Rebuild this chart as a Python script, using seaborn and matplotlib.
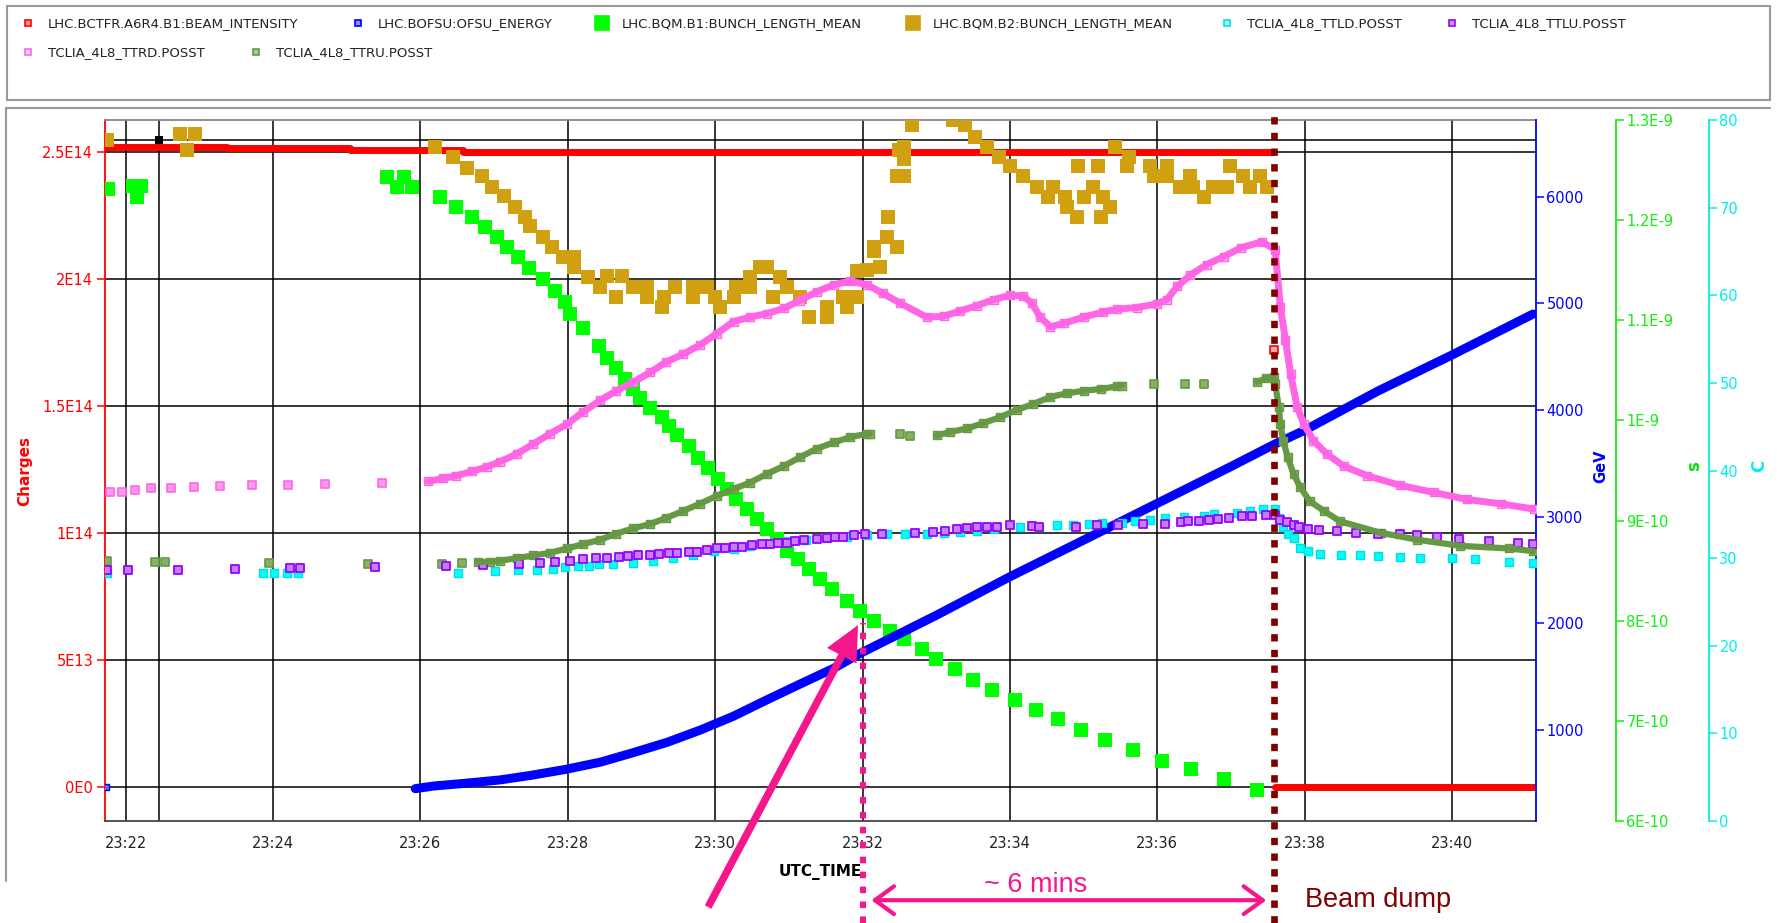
import numpy as np
import matplotlib
matplotlib.use("Agg")
import matplotlib.pyplot as plt
from matplotlib.lines import Line2D
from matplotlib.patches import Rectangle
from matplotlib import font_manager
import seaborn as sns

# all times are minutes after 23:00 UTC

# LHC.BCTFR.A6R4.B1:BEAM_INTENSITY (charges)
intensity_time = [21.72, 23.38, 25.05, 26.58, 37.57]
intensity_charges = [2.520e14, 2.513e14, 2.507e14, 2.500e14, 2.500e14]
intensity_after_time = [37.60, 41.14]
intensity_after_charges = [0.0, 0.0]
intensity_dump_time = [37.58]
intensity_dump_charges = [1.72e14]

# LHC.BOFSU:OFSU_ENERGY (GeV)
energy_start_time = [21.74]
energy_start_gev = [469]
energy_time = [25.93, 26.18, 26.60, 27.08, 27.50, 27.98, 28.45, 28.89, 29.35, 29.80, 30.25,
               30.70, 31.15, 31.61, 31.97, 33.00, 34.00, 35.00, 36.00, 37.00, 37.57, 38.00,
               39.00, 40.00, 41.10]
energy_gev = [450, 475, 500, 532, 575, 632, 700, 788, 885, 1000, 1130, 1282, 1430, 1579, 1719,
              2075, 2437, 2780, 3125, 3470, 3672, 3810, 4180, 4516, 4900]

# LHC.BQM.B1:BUNCH_LENGTH_MEAN (units of 1E-10 s)
b1_time = [21.76, 22.10, 22.15, 22.21, 25.55, 25.68, 25.78, 25.89,
           26.26, 26.49, 26.70, 26.88, 27.04, 27.17, 27.33, 27.48, 27.67, 27.83,
           27.96, 28.03, 28.21, 28.42, 28.53, 28.66, 28.78, 28.88, 28.98, 29.11, 29.28,
           29.38, 29.48, 29.64, 29.77, 29.91, 30.04, 30.16, 30.29, 30.43, 30.57, 30.70,
           30.84, 30.97, 31.13, 31.27, 31.42, 31.58, 31.79, 31.97, 32.16, 32.37, 32.56,
           32.81, 33.00, 33.26, 33.50, 33.76, 34.07, 34.36, 34.65, 34.97, 35.29, 35.67,
           36.06, 36.46, 36.90, 37.35]
b1_length = [12.31, 12.34, 12.23, 12.34, 12.43, 12.33, 12.43, 12.33,
             12.23, 12.13, 12.03, 11.93, 11.83, 11.73, 11.63, 11.52, 11.41, 11.29,
             11.18, 11.06, 10.92, 10.74, 10.62, 10.52, 10.41, 10.31, 10.22, 10.12, 10.03,
             9.94, 9.85, 9.74, 9.62, 9.52, 9.42, 9.32, 9.22, 9.12, 9.02, 8.92,
             8.82, 8.70, 8.62, 8.52, 8.42, 8.32, 8.20, 8.10, 8.00, 7.90, 7.82,
             7.72, 7.62, 7.52, 7.41, 7.31, 7.21, 7.11, 7.02, 6.91, 6.81, 6.71,
             6.60, 6.52, 6.42, 6.31]

# LHC.BQM.B2:BUNCH_LENGTH_MEAN (units of 1E-10 s)
b2_time = [21.75, 22.74, 22.83, 22.94, 26.20, 26.44, 26.63, 26.83, 26.97, 27.13, 27.28, 27.42,
           27.49, 27.67, 27.78, 27.94, 28.08, 28.08, 28.28, 28.44, 28.53, 28.66, 28.73, 28.89,
           29.07, 29.07, 29.28, 29.30, 29.46, 29.70, 29.70, 29.89, 30.00, 30.07, 30.25, 30.29,
           30.47, 30.47, 30.61, 30.70, 30.79, 30.88, 30.97, 31.15, 31.27, 31.52, 31.52, 31.74,
           31.79, 31.92, 31.92, 32.06, 32.15, 32.15, 32.24, 32.33, 32.35, 32.47, 32.47, 32.49,
           32.56, 32.56, 32.56, 32.67, 33.23, 33.39, 33.53, 33.69, 33.85, 34.00, 34.18, 34.37,
           34.52, 34.59, 34.75, 34.77, 34.91, 34.93, 35.00, 35.13, 35.20, 35.23, 35.27, 35.36,
           35.43, 35.59, 35.61, 35.90, 35.95, 36.13, 36.13, 36.31, 36.45, 36.49, 36.63, 36.76,
           36.95, 36.99, 37.17, 37.26, 37.40, 37.49]
b2_length = [12.80, 12.86, 12.70, 12.86, 12.73, 12.63, 12.52, 12.44, 12.33, 12.24, 12.13, 12.03,
             11.94, 11.83, 11.73, 11.63, 11.63, 11.53, 11.43, 11.33, 11.44, 11.23, 11.44, 11.33,
             11.33, 11.23, 11.13, 11.23, 11.33, 11.33, 11.23, 11.33, 11.23, 11.13, 11.23, 11.33,
             11.43, 11.33, 11.53, 11.53, 11.23, 11.43, 11.33, 11.23, 11.03, 11.03, 11.13, 11.23,
             11.13, 11.49, 11.23, 11.50, 11.73, 11.69, 11.53, 11.83, 12.03, 11.73, 12.44, 12.70,
             12.44, 12.61, 12.73, 12.95, 13.00, 12.95, 12.83, 12.73, 12.63, 12.54, 12.44, 12.33,
             12.23, 12.33, 12.23, 12.13, 12.03, 12.54, 12.23, 12.33, 12.54, 12.03, 12.23, 12.13,
             12.73, 12.54, 12.63, 12.54, 12.44, 12.54, 12.44, 12.33, 12.44, 12.33, 12.23, 12.33,
             12.33, 12.54, 12.44, 12.33, 12.44, 12.33]

# TCLIA_4L8_TTLD.POSST (C)
ttld_time = [21.75, 23.86, 24.02, 24.19, 24.34, 26.51, 27.01, 27.32, 27.58, 27.80,
             27.96, 28.14, 28.29, 28.42, 28.62, 28.89, 29.16, 29.43, 29.70, 29.98,
             30.25, 30.47, 30.70, 30.97, 31.24, 31.52, 31.79, 32.06, 32.33, 32.58,
             32.87, 33.10, 33.32, 33.55, 33.78, 34.14, 34.40, 34.64, 34.86, 35.07,
             35.25, 35.52, 35.70, 35.90, 36.11, 36.36, 36.63, 36.77, 37.08, 37.26,
             37.44, 37.60, 37.65, 37.71, 37.78, 37.85, 37.94, 38.05, 38.21, 38.50,
             38.75, 39.00, 39.30, 39.57, 40.00, 40.31, 40.78, 41.10]
ttld_c = [28.3, 28.3, 28.3, 28.3, 28.3, 28.3, 28.5, 28.6, 28.7, 28.75,
          29.0, 29.1, 29.1, 29.3, 29.35, 29.5, 29.7, 30.0, 30.4, 30.8,
          31.0, 31.4, 31.6, 31.9, 32.1, 32.25, 32.45, 32.6, 32.8, 32.7,
          32.7, 32.85, 33.0, 33.15, 33.3, 33.5, 33.6, 33.75, 33.75, 33.9,
          34.05, 34.05, 34.25, 34.3, 34.55, 34.7, 34.8, 35.0, 35.2, 35.4,
          35.6, 35.6, 34.6, 33.5, 32.8, 32.3, 31.2, 30.8, 30.5, 30.4,
          30.3, 30.2, 30.1, 30.0, 30.0, 29.9, 29.6, 29.4]

# TCLIA_4L8_TTLU.POSST (C)
ttlu_time = [21.75, 22.03, 22.71, 23.48, 24.23, 24.36, 25.38, 26.35, 26.85, 27.34,
             27.62, 27.83, 28.03, 28.21, 28.39, 28.53, 28.69, 28.82, 28.96, 29.12,
             29.24, 29.37, 29.48, 29.64, 29.76, 29.89, 30.02, 30.14, 30.25, 30.36,
             30.50, 30.63, 30.75, 30.86, 30.97, 31.09, 31.20, 31.38, 31.52, 31.63,
             31.74, 31.88, 32.04, 32.26, 32.71, 32.96, 33.12, 33.28, 33.42, 33.55,
             33.69, 33.82, 34.00, 34.30, 34.39, 34.90, 35.18, 35.47, 35.81, 36.11,
             36.32, 36.42, 36.56, 36.70, 36.83, 36.97, 37.15, 37.28, 37.47, 37.60,
             37.67, 37.76, 37.85, 37.92, 38.05, 38.20, 38.44, 38.70, 39.00, 39.30,
             39.53, 39.80, 40.10, 40.50, 40.90, 41.10]
ttlu_c = [28.6, 28.6, 28.7, 28.8, 28.9, 28.9, 29.0, 29.1, 29.2, 29.3,
          29.4, 29.55, 29.7, 29.85, 30.0, 30.05, 30.1, 30.2, 30.35, 30.35,
          30.5, 30.6, 30.6, 30.7, 30.7, 30.9, 31.1, 31.1, 31.3, 31.3,
          31.45, 31.6, 31.65, 31.75, 31.75, 31.95, 32.1, 32.2, 32.3, 32.4,
          32.4, 32.65, 32.7, 32.8, 32.9, 33.0, 33.1, 33.3, 33.4, 33.5,
          33.5, 33.6, 33.75, 33.7, 33.6, 33.6, 33.75, 33.8, 33.9, 33.95,
          34.1, 34.25, 34.25, 34.4, 34.5, 34.6, 34.8, 34.8, 34.9, 34.9,
          34.4, 34.1, 33.8, 33.5, 33.3, 33.2, 33.1, 32.9, 32.8, 32.7,
          32.6, 32.4, 32.2, 32.0, 31.7, 31.6]

# TCLIA_4L8_TTRD.POSST (C)
ttrd_sparse_time = [21.79, 21.95, 22.13, 22.34, 22.61, 22.93, 23.28, 23.71, 24.20, 24.71, 25.48]
ttrd_sparse_c = [37.6, 37.6, 37.8, 38.0, 38.0, 38.1, 38.2, 38.4, 38.4, 38.5, 38.6]
ttrd_time = [26.11, 26.31, 26.49, 26.70, 26.90, 27.08, 27.31, 27.53, 27.76, 27.99,
             28.21, 28.44, 28.66, 28.89, 29.12, 29.34, 29.57, 29.79, 30.02, 30.25,
             30.47, 30.70, 30.93, 31.15, 31.38, 31.61, 31.83, 32.06, 32.28, 32.51,
             32.87, 33.10, 33.32, 33.55, 33.78, 34.00, 34.18, 34.30, 34.41, 34.55,
             34.73, 35.00, 35.27, 35.45, 35.72, 35.99, 36.13, 36.27, 36.45, 36.67,
             36.90, 37.13, 37.42, 37.60, 37.67, 37.74, 37.81, 37.90, 37.99, 38.12,
             38.30, 38.53, 38.85, 39.30, 39.75, 40.20, 40.66, 41.11]
ttrd_c = [38.75, 39.1, 39.4, 39.9, 40.4, 41.0, 41.9, 43.0, 44.2, 45.3,
          46.7, 48.0, 49.1, 50.1, 51.2, 52.4, 53.3, 54.3, 55.6, 57.0,
          57.5, 57.9, 58.5, 59.4, 60.4, 61.2, 61.6, 61.2, 60.2, 59.1,
          57.5, 57.6, 58.2, 58.8, 59.5, 60.0, 59.9, 59.1, 57.5, 56.4,
          56.8, 57.5, 58.1, 58.4, 58.6, 59.0, 59.5, 61.0, 62.3, 63.5,
          64.4, 65.4, 66.1, 65.2, 58.7, 54.9, 51.0, 47.2, 45.3, 43.4,
          41.9, 40.5, 39.4, 38.3, 37.5, 36.7, 36.2, 35.6]

# TCLIA_4L8_TTRU.POSST (C)
ttru_sparse_time = [21.75, 22.40, 22.53, 23.95, 25.29, 26.29, 26.57, 32.51, 32.65, 35.95, 36.37, 36.63]
ttru_sparse_c = [29.7, 29.55, 29.55, 29.4, 29.3, 29.3, 29.4, 44.2, 43.9, 49.9, 49.9, 49.9]
ttru_time = [26.78, 26.94, 27.08, 27.31, 27.53, 27.76, 27.99, 28.21, 28.44, 28.66,
             28.89, 29.12, 29.34, 29.57, 29.79, 30.02, 30.25, 30.47, 30.70, 30.93,
             31.15, 31.38, 31.61, 31.83, 32.06, 32.10, 33.01, 33.19, 33.42, 33.64,
             33.87, 34.09, 34.32, 34.55, 34.77, 35.00, 35.23, 35.45, 35.52, 37.35,
             37.47, 37.58, 37.60, 37.65, 37.67, 37.71, 37.77, 37.85, 37.94, 38.07,
             38.26, 38.48, 39.03, 39.53, 40.11, 40.78, 41.10]
ttru_c = [29.55, 29.6, 29.7, 30.0, 30.3, 30.6, 31.1, 31.6, 32.1, 32.8,
          33.4, 33.9, 34.6, 35.4, 36.2, 37.1, 37.9, 38.6, 39.6, 40.5,
          41.5, 42.5, 43.2, 43.8, 44.2, 44.2, 44.0, 44.4, 44.8, 45.4,
          46.1, 46.9, 47.6, 48.4, 48.8, 49.1, 49.3, 49.6, 49.7, 50.1,
          50.5, 50.7, 49.9, 47.2, 45.3, 43.4, 41.5, 39.6, 38.1, 36.5,
          35.4, 34.2, 32.9, 32.1, 31.4, 31.1, 30.8]

# axes ticks
time_ticks = [22, 24, 26, 28, 30, 32, 34, 36, 38, 40]
time_tick_labels = ["23:22", "23:24", "23:26", "23:28", "23:30", "23:32", "23:34", "23:36", "23:38", "23:40"]
charge_ticks = [0, 5e13, 1e14, 1.5e14, 2e14, 2.5e14]
charge_tick_labels = ["0E0", "5E13", "1E14", "1.5E14", "2E14", "2.5E14"]
gev_ticks = [1000, 2000, 3000, 4000, 5000, 6000]
s_ticks = [6, 7, 8, 9, 10, 11, 12, 13]
s_tick_labels = ["6E-10", "7E-10", "8E-10", "9E-10", "1E-9", "1.1E-9", "1.2E-9", "1.3E-9"]
c_ticks = [0, 10, 20, 30, 40, 50, 60, 70, 80]

# cursor crosshair and annotation times
cursor_time, cursor_charges = 22.456, 2.546e14
ramp_mark_time = 32.0
dump_time = 37.578

RED, BLUE, GREEN, GOLD = "#FF0000", "#0000FF", "#00FF00", "#D1A010"
CYAN, PURPLE, PINK, OLIVE = "#00FFFF", "#9900FF", "#FF66E6", "#669944"
HOT_PINK, MAROON = "#F5168C", "#800000"


def draw_runs(axis, t, v, color, lw, gap=0.8):
    t = np.asarray(t)
    v = np.asarray(v)
    cut = np.where(np.diff(t) > gap)[0] + 1
    for rt, rv in zip(np.split(t, cut), np.split(v, cut)):
        sns.lineplot(x=rt, y=rv, ax=axis, color=color, linewidth=lw,
                     estimator=None, sort=False, legend=False)


sns.set_style("white")
plt.rcParams["font.family"] = ["DejaVu Sans"]
plt.rcParams["axes.unicode_minus"] = False

names = {f.name for f in font_manager.fontManager.ttflist}
ann_family = "Liberation Sans" if "Liberation Sans" in names else "DejaVu Sans"

W, H = 1777, 923
fig = plt.figure(figsize=(W / 100, H / 100), dpi=100)
ax = fig.add_axes([105 / W, 102 / H, 1431 / W, 701 / H])
ax_s = ax.twinx()
ax_gev = ax.twinx()
ax_c = ax.twinx()

# beam intensity
sns.lineplot(x=intensity_time, y=intensity_charges, ax=ax, color=RED, linewidth=5,
             drawstyle="steps-post", estimator=None, legend=False)
sns.lineplot(x=intensity_after_time, y=intensity_after_charges, ax=ax, color=RED,
             linewidth=5, estimator=None, legend=False)
sns.scatterplot(x=intensity_dump_time, y=intensity_dump_charges, ax=ax, marker="s", s=30,
                color="#FFAAAA", edgecolor=RED, linewidth=1.2, legend=False, zorder=4)
ax.axvline(cursor_time, color="black", linewidth=1.1, zorder=1)
ax.axhline(cursor_charges, color="black", linewidth=1.1, zorder=1)
sns.scatterplot(x=[cursor_time], y=[cursor_charges], ax=ax, marker="s", s=30,
                color="black", linewidth=0, legend=False, zorder=5)

# bunch lengths
sns.scatterplot(x=b2_time, y=b2_length, ax=ax_s, marker="s", s=100, color=GOLD,
                linewidth=0, legend=False)
sns.scatterplot(x=b1_time, y=b1_length, ax=ax_s, marker="s", s=88, color=GREEN,
                linewidth=0, legend=False)

# energy
sns.scatterplot(x=energy_start_time, y=energy_start_gev, ax=ax_gev, marker="s", s=25,
                color="#6666FF", edgecolor=BLUE, linewidth=1, legend=False)
sns.lineplot(x=energy_time, y=energy_gev, ax=ax_gev, color=BLUE, linewidth=6.5,
             estimator=None, legend=False)

# TCLIA temperatures
draw_runs(ax_c, ttru_time, ttru_c, OLIVE, 4.5)
sns.scatterplot(x=ttru_sparse_time, y=ttru_sparse_c, ax=ax_c, marker="s", s=36,
                color="#88B066", edgecolor=OLIVE, linewidth=1.2, legend=False)
sns.scatterplot(x=ttru_time, y=ttru_c, ax=ax_c, marker="s", s=30,
                color="#88B066", edgecolor=OLIVE, linewidth=1.0, legend=False)

draw_runs(ax_c, ttrd_time, ttrd_c, PINK, 5)
sns.scatterplot(x=ttrd_sparse_time, y=ttrd_sparse_c, ax=ax_c, marker="s", s=40,
                color="#FF99EE", edgecolor=PINK, linewidth=1.2, legend=False)
sns.scatterplot(x=ttrd_time, y=ttrd_c, ax=ax_c, marker="s", s=32,
                color="#FFB3F2", edgecolor=PINK, linewidth=1.0, legend=False)

sns.scatterplot(x=ttld_time, y=ttld_c, ax=ax_c, marker="s", s=34, color=CYAN,
                edgecolor="#00E0E0", linewidth=1.0, legend=False)
sns.scatterplot(x=ttlu_time, y=ttlu_c, ax=ax_c, marker="s", s=28, color="#C080FF",
                edgecolor=PURPLE, linewidth=1.3, legend=False)

# ---- axes styling ----
ax.set_xlim(21.72, 41.14)
ax.set_xticks(time_ticks)
ax.set_xticklabels(time_tick_labels)
ax.set_ylim(-1.35e13, 2.625e14)
ax.set_yticks(charge_ticks)
ax.set_yticklabels(charge_tick_labels)
ax.grid(True, color="black", linewidth=1.1)
ax.set_axisbelow(True)
ax.tick_params(axis="y", colors=RED, length=5.5, width=1.1, labelsize=10.5, pad=3)
ax.tick_params(axis="x", colors="#222222", length=5.5, width=1.1, labelsize=10.5, pad=5)
ax.spines["left"].set_color(RED)
ax.spines["left"].set_linewidth(1.3)
ax.spines["bottom"].set_color("#444444")
ax.spines["bottom"].set_linewidth(1.3)
ax.spines["top"].set_color("#888888")
ax.spines["top"].set_linewidth(1.3)
ax.spines["right"].set_visible(False)
ax.set_xlabel("UTC_TIME", fontsize=11, fontweight="bold", color="black")
ax.xaxis.set_label_coords(0.5, -0.061)
ax.set_ylabel("Charges", fontsize=11, fontweight="bold", color=RED)
ax.yaxis.set_label_coords(-0.0505, 0.5)

for tw in (ax_s, ax_gev, ax_c):
    for side in ("left", "top", "bottom"):
        tw.spines[side].set_visible(False)
    tw.set_xlim(21.72, 41.14)

ax_gev.set_ylim(147, 6719)
ax_gev.set_yticks(gev_ticks)
ax_gev.set_yticklabels([str(g) for g in gev_ticks])
ax_gev.tick_params(axis="y", colors=BLUE, length=5.5, width=1.1, labelsize=10.5, pad=2)
ax_gev.spines["right"].set_color(BLUE)
ax_gev.spines["right"].set_linewidth(1.3)
ax_gev.set_ylabel("GeV", fontsize=10.5, fontweight="bold", color=BLUE)
ax_gev.yaxis.set_label_coords(1.0398, 0.506)

ax_s.set_ylim(6, 13)
ax_s.set_yticks(s_ticks)
ax_s.set_yticklabels(s_tick_labels)
ax_s.spines["right"].set_position(("axes", 1.0559))
ax_s.spines["right"].set_color("#11EE11")
ax_s.spines["right"].set_linewidth(1.3)
ax_s.tick_params(axis="y", colors="#11EE11", length=5.5, width=1.1, labelsize=10.5, pad=2)
ax_s.set_ylabel("s", fontsize=12, fontweight="bold", color="#11DD11")
ax_s.yaxis.set_label_coords(1.104, 0.506)

ax_c.set_ylim(0, 80)
ax_c.set_yticks(c_ticks)
ax_c.set_yticklabels([str(c) for c in c_ticks])
ax_c.spines["right"].set_position(("axes", 1.1209))
ax_c.spines["right"].set_color("#00EEEE")
ax_c.spines["right"].set_linewidth(1.3)
ax_c.tick_params(axis="y", colors="#00EEEE", length=5.5, width=1.1, labelsize=10.5, pad=2)
ax_c.set_ylabel("C", fontsize=12, fontweight="bold", color="#00EEEE")
ax_c.yaxis.set_label_coords(1.1495, 0.506)

# ---- annotations ----
xt = ax_c.get_xaxis_transform()
ax_c.axvline(ramp_mark_time, ymin=-0.1455, ymax=0.2825, color=HOT_PINK, linewidth=4.3,
             linestyle=(0, (1.1, 1.4)), clip_on=False, zorder=6)
ax_c.axvline(dump_time, ymin=-0.1455, ymax=1.005, color=MAROON, linewidth=4.8,
             linestyle=(0, (1.1, 1.25)), clip_on=False, zorder=6)
ax_c.annotate("", xy=(37.48, -0.113), xytext=(32.12, -0.113), xycoords=xt, textcoords=xt,
              arrowprops=dict(arrowstyle="<->,head_length=0.55,head_width=0.4", color=HOT_PINK,
                              lw=3, mutation_scale=25, shrinkA=0, shrinkB=0),
              annotation_clip=False)
ax_c.annotate("", xy=(31.94, 0.2796), xytext=(29.905, -0.1227), xycoords=xt, textcoords=xt,
              arrowprops=dict(arrowstyle="simple,head_length=1.25,head_width=1.2,tail_width=0.27",
                              fc=HOT_PINK, ec="none", mutation_scale=20, shrinkA=0, shrinkB=0),
              annotation_clip=False)
ax_c.text(34.35, -0.1008, "~ 6 mins", transform=xt, ha="center", va="baseline",
          fontsize=19.5, color=HOT_PINK, family=ann_family, clip_on=False)
ax_c.text(38.0, -0.1222, "Beam dump", transform=xt, ha="left", va="baseline",
          fontsize=19.5, color=MAROON, family=ann_family, clip_on=False)

# ---- panel frames ----
fig.add_artist(Rectangle((7 / W, 1 - 100 / H), 1763 / W, 94 / H, transform=fig.transFigure,
                         fill=False, edgecolor="#9A9A9A", linewidth=1.5))
fig.add_artist(Line2D([6 / W, 6 / W], [1 - 881 / H, 1 - 108 / H], transform=fig.transFigure,
                      color="#9A9A9A", linewidth=1.5))
fig.add_artist(Line2D([6 / W, 1770 / W], [1 - 108 / H, 1 - 108 / H], transform=fig.transFigure,
                      color="#9A9A9A", linewidth=1.5))

# ---- legend (flow layout, one entry each) ----
legend_entries = [
    ("LHC.BCTFR.A6R4.B1:BEAM_INTENSITY", RED, "#FF9999", 5, 28, 24),
    ("LHC.BOFSU:OFSU_ENERGY", BLUE, "#8888FF", 5, 358, 24),
    ("LHC.BQM.B1:BUNCH_LENGTH_MEAN", GREEN, GREEN, 10, 602, 24),
    ("LHC.BQM.B2:BUNCH_LENGTH_MEAN", GOLD, GOLD, 10, 913, 24),
    ("TCLIA_4L8_TTLD.POSST", "#00E0E0", "#AAFFFF", 5, 1227, 24),
    ("TCLIA_4L8_TTLU.POSST", PURPLE, "#CC99FF", 5, 1452, 24),
    ("TCLIA_4L8_TTRD.POSST", PINK, "#FFCCF5", 5, 28, 53),
    ("TCLIA_4L8_TTRU.POSST", OLIVE, "#AACC99", 5, 256, 53),
]
for label, edge, face, ms, xc, yc in legend_entries:
    h = Line2D([], [], linestyle="none", marker="s", markersize=ms,
               markerfacecolor=face, markeredgecolor=edge, markeredgewidth=1.2)
    fig.legend([h], [label], loc="center left", bbox_to_anchor=((xc - 6.6) / W, 1 - yc / H),
               frameon=False, fontsize=9.5, handlelength=1.0, handletextpad=1.0,
               borderpad=0, borderaxespad=0, labelcolor="#222222")

fig.savefig("out.png", dpi=100)
